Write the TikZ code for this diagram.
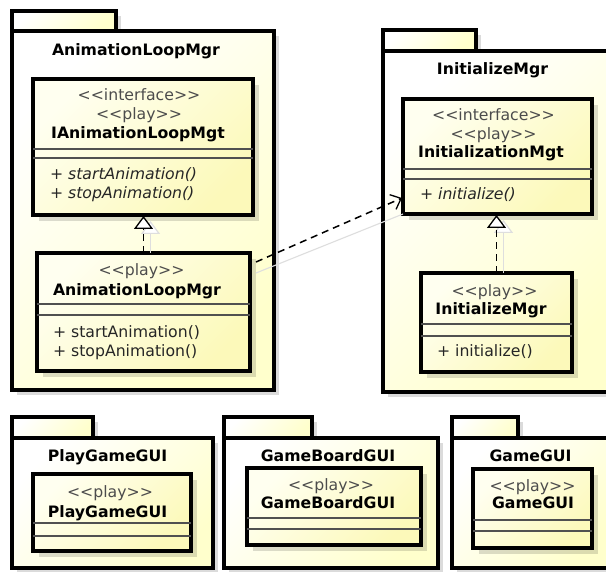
\documentclass[tikz,border=0pt]{standalone}
\usepackage{fontspec}
\setmainfont{DejaVu Sans}
% plain family without TeX ligatures, so that << and >> stay as typed
\newfontfamily\umlfont{DejaVu Sans}
\usetikzlibrary{arrows.meta}
\definecolor{pkgyellow}{HTML}{FFFFCC}
\definecolor{clsyellow}{HTML}{FCF9BA}
\definecolor{clswhite}{HTML}{FFFFF0}
\definecolor{seprule}{HTML}{505050}
\begin{document}
\begin{tikzpicture}[x=1pt,y=-1pt,
  every node/.style={inner sep=0pt,outer sep=0pt},
  pkgshape/.style={draw=black,line width=3.2pt,top color=white,bottom color=pkgyellow,shading angle=45},
  clsshape/.style={draw=black,line width=3.2pt,top color=clswhite,bottom color=clsyellow,shading angle=45},
  dropshadow/.style={fill=black,opacity=0.14},
  sepline/.style={draw=seprule,line width=1.4pt},
  stereo/.style={anchor=base,font=\umlfont\fontsize{15.7}{18}\selectfont,text=black!70},
  cname/.style={anchor=base,font=\umlfont\bfseries\fontsize{15.7}{18}\selectfont},
  ptitle/.style={anchor=base,font=\umlfont\bfseries\fontsize{15.7}{18}\selectfont},
  opname/.style={anchor=base west,font=\umlfont\fontsize{15.7}{18}\selectfont,text=black!85},
  absop/.style={anchor=base west,font=\umlfont\itshape\fontsize{15.7}{18}\selectfont,text=black!85},
  realize/.style={line width=1.5pt,dash pattern=on 7pt off 5pt,
    -{Triangle[length=13pt,width=19pt,fill=white,line width=1.3pt]}},
  realizeshadow/.style={line width=1.2pt,draw=black!13,
    -{Triangle[length=13pt,width=19pt,fill=white,line width=1.2pt]}},
  depend/.style={line width=1.5pt,dash pattern=on 7pt off 5pt,
    -{Straight Barb[length=9pt,width=16pt,line width=1.3pt]}},
  dependshadow/.style={line width=1.1pt,draw=black!13}
]
\clip (0,0) rectangle (606,572);
\fill[white] (0,0) rectangle (606,572);

% ---------- package AnimationLoopMgr ----------
\fill[dropshadow] (17,16) rectangle (121,36);
\fill[dropshadow] (17,36) rectangle (279,395);
\path[pkgshape] (12,11) rectangle (116,31);
\node[pkgshape,minimum width=262pt,minimum height=359pt,anchor=north west] (pkgAnim) at (12,31) {};
\node[ptitle] (pkgAnimTitle) at (136,56) {AnimationLoopMgr};

% interface IAnimationLoopMgt
\fill[dropshadow] (39,85) rectangle (259,221);
\node[clsshape,minimum width=220pt,minimum height=136pt,anchor=north west] (iAnim) at (33,79) {};
\draw[sepline] (iAnim.west |- 0,149) -- (iAnim.east |- 0,149);
\draw[sepline] (iAnim.west |- 0,158) -- (iAnim.east |- 0,158);
\node[stereo] at (139,101) {<<interface>>};
\node[stereo] at (139,120) {<<play>>};
\node[cname] at (138,139) {IAnimationLoopMgt};
\node[absop] at (50,180) {+ startAnimation()};
\node[absop] at (50,199) {+ stopAnimation()};

% class AnimationLoopMgr
\fill[dropshadow] (43,259) rectangle (256,377);
\node[clsshape,minimum width=213pt,minimum height=118pt,anchor=north west] (animMgr) at (37,253) {};
\draw[sepline] (animMgr.west |- 0,304) -- (animMgr.east |- 0,304);
\draw[sepline] (animMgr.west |- 0,315) -- (animMgr.east |- 0,315);
\node[stereo] at (141.5,276) {<<play>>};
\node[cname] at (137,296) {AnimationLoopMgr};
\node[opname] at (53,338) {+ startAnimation()};
\node[opname] at (53,357) {+ stopAnimation()};

% realization AnimationLoopMgr -> IAnimationLoopMgt
\draw[realizeshadow] ([xshift=7pt]animMgr.north) -- ([xshift=7pt,yshift=-6pt]animMgr.north |- iAnim.south);
\draw[realize] (animMgr.north) -- ([yshift=-1pt]animMgr.north |- iAnim.south);

% ---------- package InitializeMgr ----------
\fill[dropshadow] (388,35) rectangle (481,56);
\fill[dropshadow] (388,56) rectangle (617,397);
\path[pkgshape] (383,30) rectangle (476,51);
\node[pkgshape,minimum width=229pt,minimum height=341pt,anchor=north west] (pkgInit) at (383,51) {};
\node[ptitle] (pkgInitTitle) at (492.5,75) {InitializeMgr};

% interface InitializationMgt
\fill[dropshadow] (409,105) rectangle (598,220);
\node[clsshape,minimum width=189pt,minimum height=115pt,anchor=north west] (initMgt) at (403,99) {};
\draw[sepline] (initMgt.west |- 0,169) -- (initMgt.east |- 0,169);
\draw[sepline] (initMgt.west |- 0,179) -- (initMgt.east |- 0,179);
\node[stereo] at (493.5,121) {<<interface>>};
\node[stereo] at (493.5,140) {<<play>>};
\node[cname] at (491,158) {InitializationMgt};
\node[absop] at (420,200) {+ initialize()};

% class InitializeMgr
\fill[dropshadow] (427,279) rectangle (578,378);
\node[clsshape,minimum width=151pt,minimum height=99pt,anchor=north west] (initMgr) at (421,273) {};
\draw[sepline] (initMgr.west |- 0,324) -- (initMgr.east |- 0,324);
\draw[sepline] (initMgr.west |- 0,336) -- (initMgr.east |- 0,336);
\node[stereo] at (494.5,297) {<<play>>};
\node[cname] at (491,315) {InitializeMgr};
\node[opname] at (437,357) {+ initialize()};

% realization InitializeMgr -> InitializationMgt
\draw[realizeshadow] ([xshift=7pt]initMgr.north) -- ([xshift=7pt,yshift=-6pt]initMgr.north |- initMgt.south);
\draw[realize] (initMgr.north) -- ([yshift=-1pt]initMgr.north |- initMgt.south);

% dependency AnimationLoopMgr -> InitializationMgt
\draw[dependshadow] ([xshift=6pt,yshift=-20pt]animMgr.north east) -- (initMgt.south west);
\draw[depend] ([xshift=6pt,yshift=-9pt]animMgr.north east) -- ([xshift=-1pt,yshift=16pt]initMgt.south west);

% ---------- package PlayGameGUI ----------
\fill[dropshadow] (17,422) rectangle (98,443);
\fill[dropshadow] (17,443) rectangle (218,573);
\path[pkgshape] (12,417) rectangle (93,438);
\node[pkgshape,minimum width=201pt,minimum height=130pt,anchor=north west] (pkgPlay) at (12,438) {};
\node[ptitle] at (107.5,462) {PlayGameGUI};
\fill[dropshadow] (39,480) rectangle (197,557);
\node[clsshape,minimum width=158pt,minimum height=77pt,anchor=north west] (playGui) at (33,474) {};
\draw[sepline] (playGui.west |- 0,523) -- (playGui.east |- 0,523);
\draw[sepline] (playGui.west |- 0,536) -- (playGui.east |- 0,536);
\node[stereo] at (110,497) {<<play>>};
\node[cname] at (107.5,517) {PlayGameGUI};

% ---------- package GameBoardGUI ----------
\fill[dropshadow] (229,422) rectangle (317,443);
\fill[dropshadow] (229,443) rectangle (443,573);
\path[pkgshape] (224,417) rectangle (312,438);
\node[pkgshape,minimum width=214pt,minimum height=130pt,anchor=north west] (pkgBoard) at (224,438) {};
\node[ptitle] at (328,462) {GameBoardGUI};
\fill[dropshadow] (253,474) rectangle (427,551);
\node[clsshape,minimum width=174pt,minimum height=77pt,anchor=north west] (boardGui) at (247,468) {};
\draw[sepline] (boardGui.west |- 0,518) -- (boardGui.east |- 0,518);
\draw[sepline] (boardGui.west |- 0,529) -- (boardGui.east |- 0,529);
\node[stereo] at (331,490) {<<play>>};
\node[cname] at (328,508) {GameBoardGUI};

% ---------- package GameGUI ----------
\fill[dropshadow] (457,422) rectangle (523,443);
\fill[dropshadow] (457,443) rectangle (617,573);
\path[pkgshape] (452,417) rectangle (518,438);
\node[pkgshape,minimum width=160pt,minimum height=130pt,anchor=north west] (pkgGame) at (452,438) {};
\node[ptitle] at (530.5,462) {GameGUI};
\fill[dropshadow] (479,475) rectangle (598,554);
\node[clsshape,minimum width=119pt,minimum height=79pt,anchor=north west] (gameGui) at (473,469) {};
\draw[sepline] (gameGui.west |- 0,520) -- (gameGui.east |- 0,520);
\draw[sepline] (gameGui.west |- 0,531) -- (gameGui.east |- 0,531);
\node[stereo] at (532.5,491) {<<play>>};
\node[cname] at (533,508) {GameGUI};
\end{tikzpicture}
\end{document}
